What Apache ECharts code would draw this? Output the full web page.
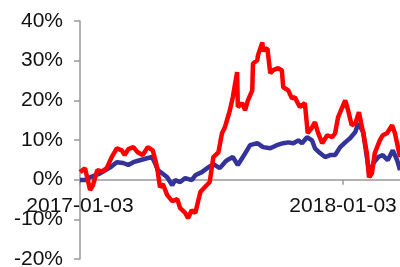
<!DOCTYPE html>
<html>
<head>
<meta charset="utf-8">
<script src="https://cdn.jsdelivr.net/npm/echarts@6/dist/echarts.min.js"></script>
<style>
  html, body { margin: 0; padding: 0; background: #fff; }
  #chart { width: 400px; height: 267px; }
</style>
</head>
<body>
<div id="chart"></div>
<script>
// x = calendar days since 2017-01-03, y = cumulative return (%)
const xTickDays = [0, 365];
const xTickLabels = ['2017-01-03', '2018-01-03'];
const xMaxDays = 444;

const redDays = [0, 7, 14, 18, 24, 31, 37, 44, 51, 58, 62, 67, 74, 80, 87, 94, 101, 107, 111, 115,
  121, 128, 135, 139, 146, 150, 155, 160, 167, 173, 180, 185, 192, 197, 201, 208, 212, 218, 219, 225,
  229, 233, 239, 240, 246, 247, 253, 254, 260, 264, 268, 275, 280, 282, 289, 294, 298, 305, 312, 316,
  322, 326, 330, 336, 343, 350, 354, 358, 364, 368, 372, 377, 382, 387, 393, 398, 401, 405, 409, 416,
  420, 426, 433, 437, 444];
const redVals = [1.9, 2.9, -2.6, -1.4, 2.4, 2.1, 2.9, 5.7, 7.9, 7.4, 6.2, 7.7, 8.2, 6.9, 6.2, 8.2, 7.4, 3.1, -1.9, -1.1,
  -3.9, -5.4, -4.9, -7.2, -8.4, -9.7, -7.7, -8.4, -3.1, -1.9, -0.6, 5.7, 6.9, 11.7, 13.2, 17.5, 20.8, 27.1, 18.3, 19.3,
  17.5, 20.0, 22.5, 29.3, 30.1, 31.4, 34.6, 32.6, 33.1, 26.8, 27.6, 28.1, 27.6, 23.3, 22.5, 20.5, 20.8, 18.3, 19.3, 11.7,
  13.2, 14.5, 12.0, 9.2, 11.2, 10.7, 11.7, 15.7, 18.3, 20.0, 17.5, 13.7, 14.2, 17.0, 11.7, 6.7, 0.6, 1.6, 6.7, 9.9,
  11.2, 11.7, 13.7, 11.7, 5.7];

const blueDays = [0, 7, 14, 28, 42, 51, 60, 67, 74, 83, 93, 100, 104, 108, 114, 121, 128, 132, 139, 146,
  155, 160, 169, 178, 185, 194, 201, 204, 212, 219, 226, 236, 246, 254, 264, 273, 282, 289, 296, 303,
  308, 315, 322, 326, 333, 340, 347, 354, 361, 368, 375, 382, 386, 393, 398, 402, 407, 414, 420, 427,
  434, 440, 444];
const blueVals = [-0.1, -0.1, 0.6, 1.6, 3.1, 4.4, 4.2, 3.7, 4.4, 4.9, 5.4, 5.7, 4.2, 2.4, 1.6, 0.6, -1.4, -0.1, -0.6, 0.4,
  -0.1, 1.1, 1.9, 3.1, 3.9, 2.9, 4.4, 4.9, 5.7, 3.7, 5.7, 8.7, 9.2, 8.2, 7.9, 8.7, 9.2, 9.4, 9.2, 9.9,
  9.2, 10.7, 9.9, 7.9, 6.7, 5.7, 6.2, 6.2, 8.2, 9.4, 10.5, 12.0, 14.2, 12.0, 5.7, 0.6, 4.2, 5.7, 6.2, 4.9,
  7.4, 4.9, 2.4];

const yTicks = [-20, -10, 0, 10, 20, 30, 40];

const FONT = '"Liberation Sans", Arial, sans-serif';
const GRID = { left: 80, right: 0, top: 21, bottom: 8 };
const H = 267;

// v6 keeps x labels at the grid bottom, so shift the whole x axis up to y = 0
const yMin = yTicks[0], yMax = yTicks[yTicks.length - 1];
const plotH = H - GRID.top - GRID.bottom;
const zeroOffset = -plotH * (0 - yMin) / (yMax - yMin);

const chart = echarts.init(document.getElementById('chart'), null, { renderer: 'canvas' });

const pairs = (xs, ys) => xs.map((x, i) => [x, ys[i]]);

chart.setOption({
  animation: false,
  backgroundColor: '#fff',
  grid: { ...GRID, containLabel: false, outerBoundsMode: 'none' },
  xAxis: {
    type: 'value',
    min: 0,
    max: xMaxDays,
    interval: xTickDays[1] - xTickDays[0],
    offset: zeroOffset,
    splitLine: { show: false },
    axisLine: { onZero: false, lineStyle: { color: '#999', width: 1.5 } },
    axisTick: { show: true, length: 5, lineStyle: { color: '#999', width: 1.5 } },
    axisLabel: {
      margin: 16,
      fontSize: 21,
      fontFamily: FONT,
      color: '#111',
      showMaxLabel: false,
      formatter: (v) => {
        const i = xTickDays.indexOf(v);
        return i >= 0 ? xTickLabels[i] : '';
      }
    }
  },
  yAxis: {
    type: 'value',
    min: yMin,
    max: yMax,
    interval: 10,
    splitLine: { show: false },
    axisLine: { show: true, onZero: false, lineStyle: { color: '#999', width: 1.5 } },
    axisTick: { show: true, length: 6, lineStyle: { color: '#999', width: 1.5 } },
    axisLabel: {
      margin: 17,
      fontSize: 21,
      fontFamily: FONT,
      color: '#111',
      formatter: (v) => v + '%'
    }
  },
  series: [
    {
      name: 'B',
      type: 'line',
      data: pairs(blueDays, blueVals),
      showSymbol: false,
      lineStyle: { color: '#333399', width: 4.5 },
      itemStyle: { color: '#333399' },
      z: 2
    },
    {
      name: 'A',
      type: 'line',
      data: pairs(redDays, redVals),
      showSymbol: false,
      lineStyle: { color: '#FF0000', width: 4.5 },
      itemStyle: { color: '#FF0000' },
      z: 3
    }
  ]
});
</script>
</body>
</html>
